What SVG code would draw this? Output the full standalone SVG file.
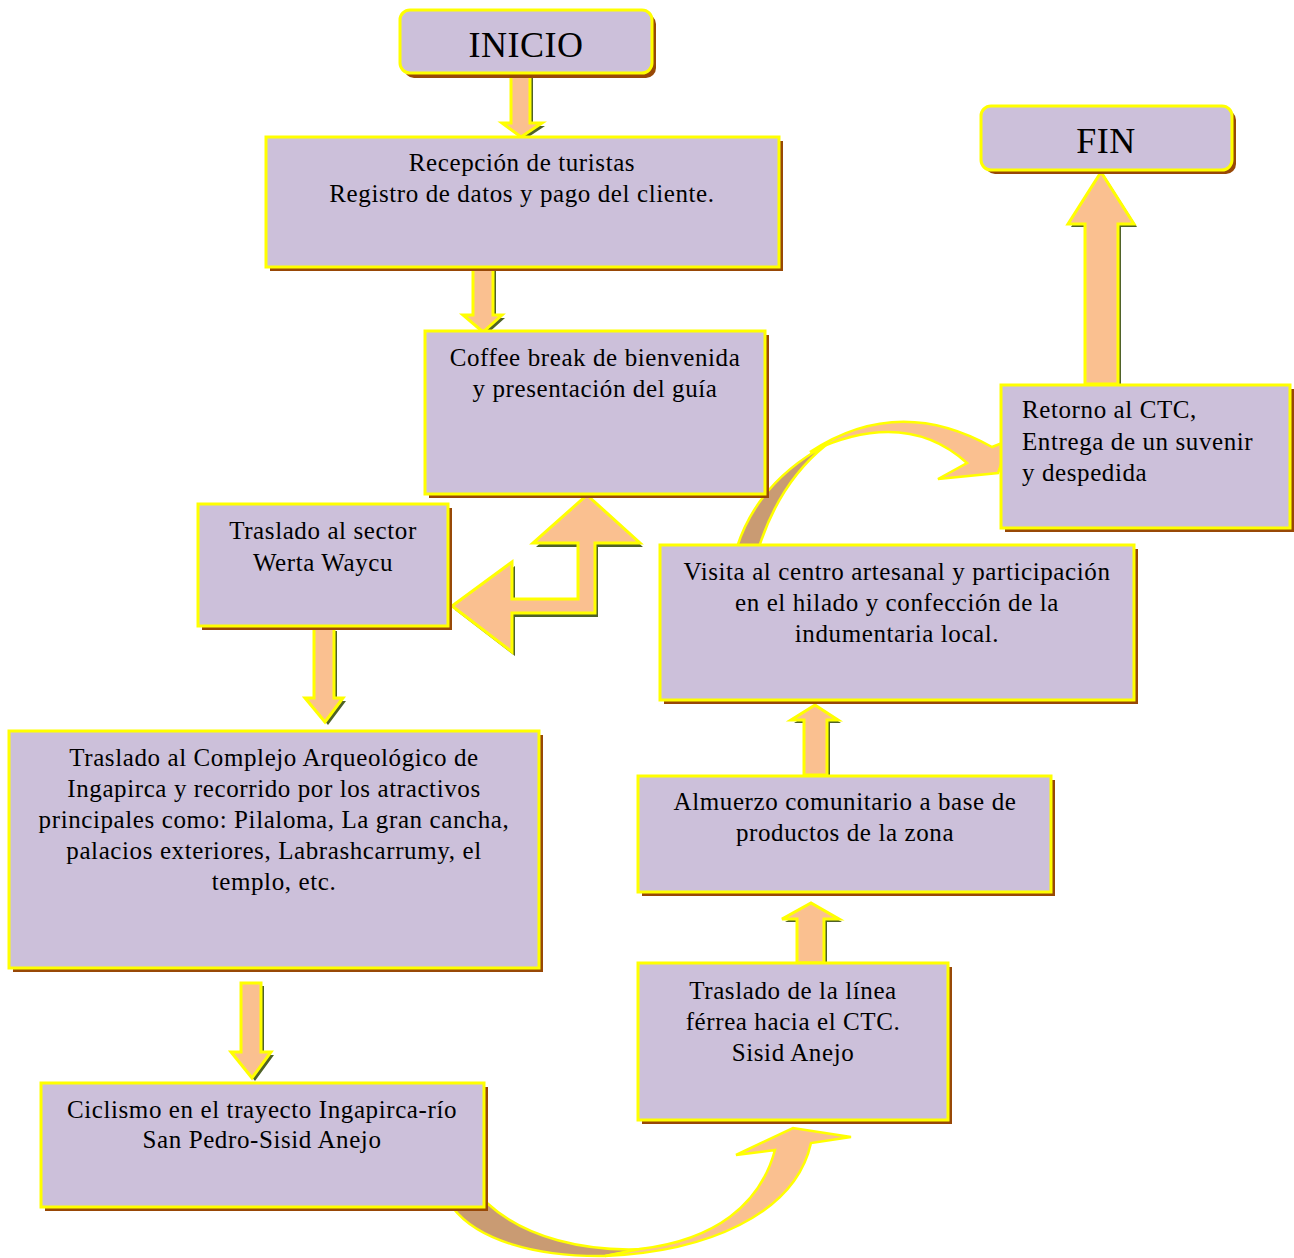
<svg xmlns="http://www.w3.org/2000/svg" width="1294" height="1258" viewBox="0 0 1294 1258">
<defs>
<style>
.box{fill:#CCC0DA;stroke:#FFFF00;stroke-width:3}
.sh{fill:#984806}
.arr{fill:#FAC090;stroke:#FFFF00;stroke-width:3;stroke-linejoin:miter}
.ash{fill:#4F6228}
.cdark{fill:#C99B73;stroke:#FFFF00;stroke-width:2.5;stroke-linejoin:round}
.clight{fill:#FAC090;stroke:#FFFF00;stroke-width:2.5;stroke-linejoin:miter}
text{font-family:"Liberation Serif","Times New Roman",serif;font-size:25px;fill:#000;letter-spacing:0.6px}
.c{text-anchor:middle}
.big{font-size:36px;letter-spacing:0.5px}
</style>
</defs>
<rect width="1294" height="1258" fill="#FFFFFF"/>
<g id="connectors">
  <!-- INICIO -> Recepcion -->
  <polygon class="ash" transform="translate(3,3)" points="511,73 530,73 530,123 542,123 521,137 502,123 511,123"/>
  <polygon class="arr" points="511,73 530,73 530,123 542,123 521,137 502,123 511,123"/>
  <!-- Recepcion -> Coffee -->
  <polygon class="ash" transform="translate(3,3)" points="473,268 493,268 493,315 502,315 483,332 463,315 473,315"/>
  <polygon class="arr" points="473,268 493,268 493,315 502,315 483,332 463,315 473,315"/>
  <!-- Coffee -> Werta (bent) -->
  <path class="ash" transform="translate(3,4)" d="M587,495 L640,543 L595,543 L595,613 L512,613 L512,652 L452,606 L512,562 L512,599 L578,599 L578,543 L533,543 Z"/>
  <path class="arr" d="M587,495 L640,543 L595,543 L595,613 L512,613 L512,652 L452,606 L512,562 L512,599 L578,599 L578,543 L533,543 Z"/>
  <!-- Werta -> Complejo -->
  <polygon class="ash" transform="translate(3,3)" points="314,628 334,628 334,698 343,698 325,722 305,698 314,698"/>
  <polygon class="arr" points="314,628 334,628 334,698 343,698 325,722 305,698 314,698"/>
  <!-- Complejo -> Ciclismo -->
  <polygon class="ash" transform="translate(3,3)" points="241,983 261,983 261,1052 271,1052 252,1078 231,1052 241,1052"/>
  <polygon class="arr" points="241,983 261,983 261,1052 271,1052 252,1078 231,1052 241,1052"/>
  <!-- Ciclismo -> Traslado linea (curved) -->
  <path class="cdark" d="M487,1203 C525,1238 585,1252 645,1249 L605,1256 C535,1257 478,1240 453,1208 Z"/>
  <path class="clight" d="M605,1256 C705,1252 795,1215 811,1143 L851,1137 L793,1128 L736,1155 L775,1150 C760,1205 715,1240 640,1249 Z"/>
  <!-- Traslado linea -> Almuerzo -->
  <polygon class="ash" transform="translate(3,3)" points="797,963 824,963 824,919 839,919 811,903 782,919 797,919"/>
  <polygon class="arr" points="797,963 824,963 824,919 839,919 811,903 782,919 797,919"/>
  <!-- Almuerzo -> Visita -->
  <polygon class="ash" transform="translate(3,3)" points="804,775 827,775 827,720 838,720 815,705 791,720 804,720"/>
  <polygon class="arr" points="804,775 827,775 827,720 838,720 815,705 791,720 804,720"/>
  <!-- Visita -> Retorno (curved) -->
  <path class="cdark" d="M737,547 Q758,482 826,445 Q780,482 759,547 Z"/>
  <path class="clight" d="M810,452 Q898,394 992,447 L1010,440 L998,473 L938,479 L967,463 Q905,407 810,452 Z"/>
  <!-- Retorno -> FIN -->
  <polygon class="ash" transform="translate(3,3)" points="1085,384 1118,384 1118,224 1134,224 1101,172 1068,224 1085,224"/>
  <polygon class="arr" points="1085,384 1118,384 1118,224 1134,224 1101,172 1068,224 1085,224"/>
</g>
<g id="n-inicio">
  <rect class="sh" x="404" y="14" width="252" height="64" rx="10"/>
  <rect class="box" x="400" y="10" width="252" height="63" rx="10"/>
  <text class="c big" x="526" y="57">INICIO</text>
</g>
<g id="n-recepcion">
  <rect class="sh" x="270" y="141" width="513" height="130"/>
  <rect class="box" x="266" y="137" width="513" height="130"/>
  <text class="c" x="522" y="171">Recepción de turistas</text>
  <text class="c" x="522" y="202">Registro de datos y pago del cliente.</text>
</g>
<g id="n-coffee">
  <rect class="sh" x="429" y="335" width="340" height="163"/>
  <rect class="box" x="425" y="331" width="340" height="163"/>
  <text class="c" x="595" y="366">Coffee break de bienvenida</text>
  <text class="c" x="595" y="397">y presentación del guía</text>
</g>
<g id="n-werta">
  <rect class="sh" x="202" y="508" width="250" height="122"/>
  <rect class="box" x="198" y="504" width="250" height="122"/>
  <text class="c" x="323" y="539">Traslado al sector</text>
  <text class="c" x="323" y="571">Werta Waycu</text>
</g>
<g id="n-complejo">
  <rect class="sh" x="13" y="735" width="530" height="237"/>
  <rect class="box" x="9" y="731" width="530" height="237"/>
  <text class="c" x="274" y="766">Traslado al Complejo Arqueológico de</text>
  <text class="c" x="274" y="797">Ingapirca y recorrido por los atractivos</text>
  <text class="c" x="274" y="828">principales como: Pilaloma, La gran cancha,</text>
  <text class="c" x="274" y="859">palacios exteriores, Labrashcarrumy, el</text>
  <text class="c" x="274" y="890">templo, etc.</text>
</g>
<g id="n-ciclismo">
  <rect class="sh" x="45" y="1087" width="443" height="124"/>
  <rect class="box" x="41" y="1083" width="443" height="124"/>
  <text class="c" x="262" y="1118">Ciclismo en el trayecto Ingapirca-río</text>
  <text class="c" x="262" y="1148">San Pedro-Sisid Anejo</text>
</g>
<g id="n-linea">
  <rect class="sh" x="642" y="967" width="310" height="157"/>
  <rect class="box" x="638" y="963" width="310" height="157"/>
  <text class="c" x="793" y="999">Traslado de la línea</text>
  <text class="c" x="793" y="1030">férrea hacia el CTC.</text>
  <text class="c" x="793" y="1061">Sisid Anejo</text>
</g>
<g id="n-almuerzo">
  <rect class="sh" x="642" y="780" width="413" height="116"/>
  <rect class="box" x="638" y="776" width="413" height="116"/>
  <text class="c" x="845" y="810">Almuerzo comunitario a base de</text>
  <text class="c" x="845" y="841">productos de la zona</text>
</g>
<g id="n-visita">
  <rect class="sh" x="664" y="549" width="474" height="155"/>
  <rect class="box" x="660" y="545" width="474" height="155"/>
  <text class="c" x="897" y="580">Visita al centro artesanal y participación</text>
  <text class="c" x="897" y="611">en el hilado y confección de la</text>
  <text class="c" x="897" y="642">indumentaria local.</text>
</g>
<g id="n-retorno">
  <rect class="sh" x="1005" y="389" width="289" height="143"/>
  <rect class="box" x="1001" y="385" width="289" height="143"/>
  <text x="1022" y="418">Retorno al CTC,</text>
  <text x="1022" y="450">Entrega de un suvenir</text>
  <text x="1022" y="481">y despedida</text>
</g>
<g id="n-fin">
  <rect class="sh" x="985" y="110" width="251" height="64" rx="10"/>
  <rect class="box" x="981" y="106" width="251" height="64" rx="10"/>
  <text class="c big" x="1106" y="153">FIN</text>
</g>
</svg>
